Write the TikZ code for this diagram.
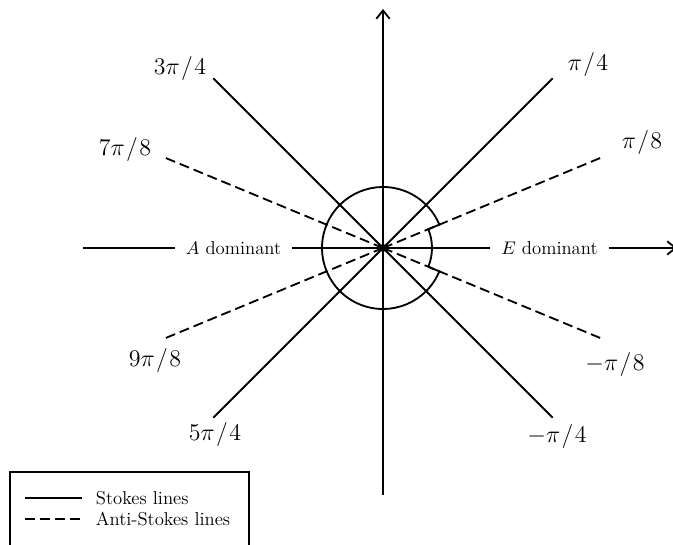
\documentclass[tikz,border=0pt]{standalone}
\usetikzlibrary{arrows.meta}
\begin{document}
\begin{tikzpicture}[x=0.6pt,y=-0.6pt,
  line width=1.1pt,
  stokes/.style={line width=1.1pt},
  antistokes/.style={line width=1.1pt, dash pattern=on 6pt off 3pt},
  anglabel/.style={font=\fontsize{14.5}{16}\selectfont, inner sep=0pt},
  domlabel/.style={font=\fontsize{11.2}{13}\selectfont, inner xsep=6pt, inner ysep=0pt},
  legtext/.style={font=\fontsize{11.2}{13}\selectfont, anchor=west, inner sep=0pt},
  axisarrow/.style={-{Straight Barb[length=5pt,width=8pt]}}]
\useasboundingbox (0,0) rectangle (673,545);
\clip (0,0) rectangle (673,545);

\coordinate (O) at (383,248);
% axes
\coordinate (top) at (383,9);
\coordinate (bot) at (383,495);
\coordinate (lft) at (83,248);
\coordinate (rgt) at (677,248);
\draw[axisarrow] (bot) -- (top);

\node[domlabel] (Adom) at (233.5,248) {$A$ dominant};
\node[domlabel] (Edom) at (549.5,248) {$E$ dominant};
\draw (lft) -- (Adom.west);
\draw (Adom.east) -- (Edom.west);
\draw[axisarrow] (Edom.east) -- (rgt);

% Stokes lines
\foreach \a/\n in {45/s1,135/s2,225/s3,315/s4}
  \coordinate (\n) at ([shift={(\a:240)}]O);
\foreach \n in {s1,s2,s3,s4}
  \draw[stokes] (O) -- (\n);

% Anti-Stokes lines
\foreach \a/\n in {22.5/a1,157.5/a2,202.5/a3,337.5/a4}
  \coordinate (\n) at ([shift={(\a:239)}]O);
\foreach \n in {a1,a2,a3,a4}
  \draw[antistokes] (O) -- (\n);

% contour
\draw ([shift={(22.5:49)}]O) -- ([shift={(22.5:61)}]O)
  arc[start angle=22.5, end angle=337.5, radius=61]
  -- ([shift={(-22.5:49)}]O)
  arc[start angle=-22.5, end angle=22.5, radius=49];

\fill (O) circle[radius=4];

% angle labels
\node[anglabel] (l34) at (180,69) {$3\pi\mkern1mu/\mkern1mu4$};
\node[anglabel] (l14) at (588,65) {$\pi\mkern1mu/\mkern1mu4$};
\node[anglabel] (l78) at (125,150) {$7\pi\mkern1mu/\mkern1mu8$};
\node[anglabel] (l18) at (642,143) {$\pi\mkern1mu/\mkern1mu8$};
\node[anglabel] (l98) at (155,361) {$9\pi\mkern1mu/\mkern1mu8$};
\node[anglabel] (lm18) at (615,365) {$-\pi\mkern1mu/\mkern1mu8$};
\node[anglabel] (l54) at (215,435) {$5\pi\mkern1mu/\mkern1mu4$};
\node[anglabel] (lm14) at (557,437) {$-\pi\mkern1mu/\mkern1mu4$};

% legend
\draw[line width=1pt] (10,550) -- (10,472) -- (249,472) -- (249,550);
\coordinate (ls1) at (25,498);
\coordinate (ls2) at (82,498);
\coordinate (la1) at (25,519);
\coordinate (la2) at (82,519);
\draw[stokes] (ls1) -- (ls2);
\draw[antistokes] (la1) -- (la2);
\node[legtext] (tS) at (95,498) {Stokes lines};
\node[legtext] (tA) at (95,519) {Anti-Stokes lines};
\end{tikzpicture}
\end{document}
